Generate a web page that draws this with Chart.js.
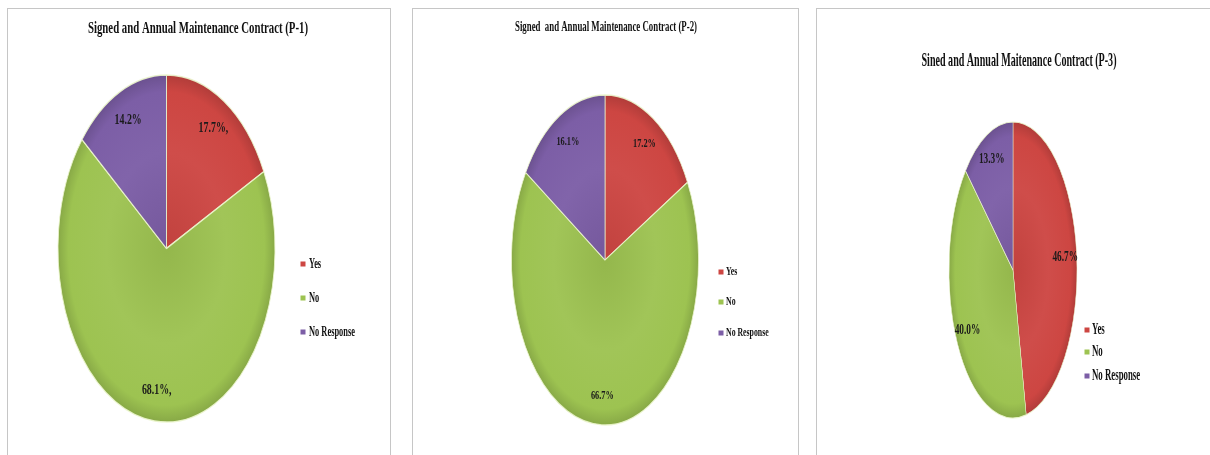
<!DOCTYPE html>
<html>
<head>
<meta charset="utf-8">
<title>Signed and Annual Maintenance Contract</title>
<script src="https://cdn.jsdelivr.net/npm/chart.js@4.4.1/dist/chart.umd.min.js"></script>
<style>
  html, body { margin: 0; padding: 0; background: #ffffff; }
  body { width: 1210px; height: 455px; position: relative; overflow: hidden; }
  .panel { position: absolute; border: 1px solid #c6c6c6; background: #ffffff; }
  .panel canvas { position: absolute; left: 0; top: 0; }
</style>
</head>
<body>
<div class="panel" id="panel1"><canvas id="c1"></canvas></div>
<div class="panel" id="panel2"><canvas id="c2"></canvas></div>
<div class="panel" id="panel3"><canvas id="c3"></canvas></div>

<script>
// ---- data ----
const categories = ['Yes', 'No', 'No Response'];
const p1Values = [17.7, 68.1, 14.2];
const p2Values = [17.2, 66.7, 16.1];
const p3Values = [46.7, 40.0, 13.3];
const p1Suffix = [',', ',', ''];
const p2Suffix = ['', '', ''];
const p3Suffix = ['', '', ''];
const chartTitles = [
  'Signed and Annual Maintenance Contract (P-1)',
  'Signed  and Annual Maintenance Contract (P-2)',
  'Sined and Annual Maitenance Contract (P-3)'
];

// ---- style ----
const sliceColors = ['#cd4642', '#9dc351', '#7c5ea6'];
const SERIF = '"Liberation Serif", "Times New Roman", serif';

// Panel geometry in page coordinates
const panels = [
  {
    id: 'panel1', canvas: 'c1', left: 7, top: 8, width: 382, height: 460,
    values: p1Values, suffix: p1Suffix, title: chartTitles[0],
    titleX: 198, titleY: 29, titleW: 220, titleSize: 16,
    pie: { cx: 166.5, cy: 248.5, rx: 108.5, ry: 173.5 },
    labelSize: 15, labelSx: 0.66, labelR: 0.82,
    legendSq: 303, legendText: 309, legendY: [264, 298, 332], legendSize: 15, legendSx: 0.56
  },
  {
    id: 'panel2', canvas: 'c2', left: 412, top: 8, width: 385, height: 460,
    values: p2Values, suffix: p2Suffix, title: chartTitles[1],
    titleX: 606, titleY: 27, titleW: 182, titleSize: 14,
    pie: { cx: 605, cy: 260, rx: 93.5, ry: 165 },
    labelSize: 13, labelSx: 0.64, labelR: 0.82,
    legendSq: 721, legendText: 726, legendY: [272, 302, 333], legendSize: 13, legendSx: 0.6
  },
  {
    id: 'panel3', canvas: 'c3', left: 816, top: 8, width: 400, height: 460,
    values: p3Values, suffix: p3Suffix, title: chartTitles[2],
    titleX: 1019, titleY: 61, titleW: 195, titleSize: 19,
    pie: { cx: 1013, cy: 270, rx: 64, ry: 148 },
    labelSize: 15, labelSx: 0.62, labelR: 0.82,
    legendSq: 1087, legendText: 1092, legendY: [330, 352, 376], legendSize: 16, legendSx: 0.55
  }
];

function shade(hex, amt) {
  const n = parseInt(hex.slice(1), 16);
  let r = (n >> 16) & 255, g = (n >> 8) & 255, b = n & 255;
  const f = (c) => Math.max(0, Math.min(255, Math.round(amt >= 0 ? c + (255 - c) * amt : c * (1 + amt))));
  return 'rgb(' + f(r) + ',' + f(g) + ',' + f(b) + ')';
}

// Horizontally condensed serif text
function drawText(ctx, text, x, y, size, sx, align, color) {
  ctx.save();
  ctx.font = 'bold ' + size + 'px ' + SERIF;
  ctx.fillStyle = color || '#111111';
  ctx.textBaseline = 'middle';
  ctx.textAlign = align;
  ctx.translate(x, y);
  ctx.scale(sx, 1);
  ctx.fillText(text, 0, 0);
  ctx.restore();
}

function drawFitted(ctx, text, x, y, size, width) {
  ctx.save();
  ctx.font = 'bold ' + size + 'px ' + SERIF;
  const w = ctx.measureText(text).width;
  ctx.restore();
  drawText(ctx, text, x, y, size, width / w, 'center', '#111111');
}

// Draws the pie as an ellipse at a chosen centre, plus title, value labels and legend
const ellipsePie = {
  id: 'ellipsePie',
  beforeDatasetsDraw(chart) {
    const p = chart.options.plugins.ellipsePie;
    const arc = chart.getDatasetMeta(0).data[0];
    if (!arc) return;
    const ctx = chart.ctx;
    const R = arc.outerRadius;
    ctx.save();
    ctx.translate(p.cx, p.cy);
    ctx.scale(p.rx / R, p.ry / R);
    ctx.translate(-arc.x, -arc.y);
  },
  afterDatasetsDraw(chart) {
    const p = chart.options.plugins.ellipsePie;
    const ctx = chart.ctx;
    ctx.restore();
    const meta = chart.getDatasetMeta(0);
    const ds = chart.data.datasets[0];

    // title
    drawFitted(ctx, p.title, p.titleX, p.titleY, p.titleSize, p.titleW);

    // value labels inside the slices
    meta.data.forEach((el, i) => {
      const mid = (el.startAngle + el.endAngle) / 2;
      const lx = p.cx + Math.cos(mid) * p.rx * p.labelR;
      const ly = p.cy + Math.sin(mid) * p.ry * p.labelR;
      const txt = ds.data[i].toFixed(1) + '%' + p.suffix[i];
      drawText(ctx, txt, lx, ly, p.labelSize, p.labelSx, 'center', '#1a1a1a');
    });

    // legend
    chart.data.labels.forEach((lab, i) => {
      const y = p.legendY[i];
      ctx.fillStyle = sliceColors[i];
      ctx.fillRect(p.legendSq - 2.5, y - 2.5, 5, 5);
      drawText(ctx, lab, p.legendText, y, p.legendSize, p.legendSx, 'left', '#111111');
    });
  }
};

panels.forEach((pn) => {
  const div = document.getElementById(pn.id);
  div.style.left = pn.left + 'px';
  div.style.top = pn.top + 'px';
  div.style.width = pn.width + 'px';
  div.style.height = pn.height + 'px';
  const canvas = document.getElementById(pn.canvas);
  canvas.width = pn.width;
  canvas.height = pn.height;
  canvas.style.width = pn.width + 'px';
  canvas.style.height = pn.height + 'px';

  // convert page coordinates to canvas coordinates (inside the 1px border)
  const ox = pn.left + 1, oy = pn.top + 1;
  const cfg = {
    cx: pn.pie.cx - ox, cy: pn.pie.cy - oy, rx: pn.pie.rx, ry: pn.pie.ry,
    title: pn.title, titleX: pn.titleX - ox, titleY: pn.titleY - oy,
    titleW: pn.titleW, titleSize: pn.titleSize,
    labelSize: pn.labelSize, labelSx: pn.labelSx, labelR: pn.labelR, suffix: pn.suffix,
    legendSq: pn.legendSq - ox, legendText: pn.legendText - ox,
    legendY: pn.legendY.map((v) => v - oy), legendSize: pn.legendSize, legendSx: pn.legendSx
  };

  new Chart(canvas.getContext('2d'), {
    type: 'pie',
    data: {
      labels: categories,
      datasets: [{
        data: pn.values,
        clip: false,
        backgroundColor: (c) => {
          const base = sliceColors[c.dataIndex % sliceColors.length];
          const area = c.chart.chartArea;
          if (!area) return base;
          const x = (area.left + area.right) / 2;
          const y = (area.top + area.bottom) / 2;
          const r = Math.min(area.right - area.left, area.bottom - area.top) / 2;
          const g = c.chart.ctx.createRadialGradient(x, y, 0, x, y, r);
          g.addColorStop(0, shade(base, -0.06));
          g.addColorStop(0.55, shade(base, 0.04));
          g.addColorStop(0.9, base);
          g.addColorStop(1, shade(base, -0.14));
          return g;
        },
        borderColor: 'rgba(235,245,205,0.9)',
        borderWidth: 1.6
      }]
    },
    options: {
      responsive: false,
      animation: false,
      events: [],
      layout: { padding: 0 },
      plugins: {
        legend: { display: false },
        title: { display: false },
        tooltip: { enabled: false },
        ellipsePie: cfg
      }
    },
    plugins: [ellipsePie]
  });
});
</script>
</body>
</html>
